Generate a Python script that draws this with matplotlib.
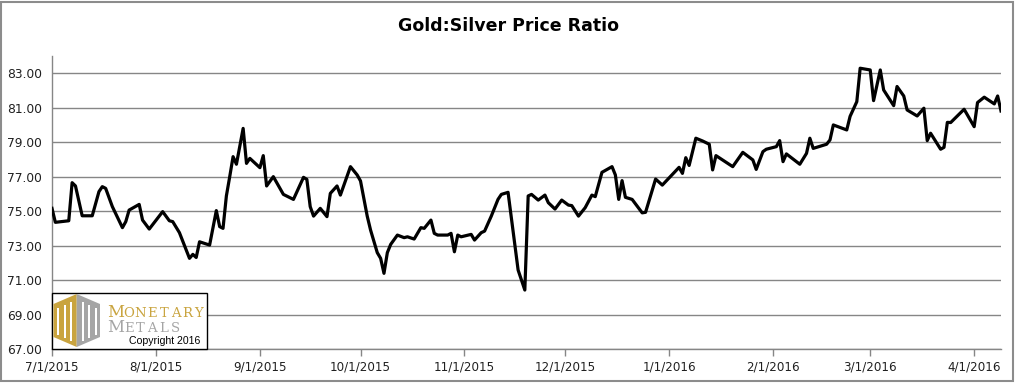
import numpy as np
import pandas as pd
import matplotlib
matplotlib.use("Agg")
import matplotlib.pyplot as plt
import matplotlib.dates as mdates
import matplotlib.patches as mpatches
from matplotlib.ticker import FormatStrFormatter, FuncFormatter

# Gold:Silver ratio (days counted from 2015-07-01)
start_date = "2015-07-01"
days = [0, 1, 5, 6, 7, 9, 12, 14, 15, 16, 18, 21, 22, 23, 26, 27, 29, 33, 35, 36,
        38, 41, 42, 43, 44, 47, 49, 50, 51, 52, 53, 54, 55, 57, 58, 59, 62, 63, 64, 66,
        69, 72, 75, 76, 77, 78, 80, 82, 83, 85, 86, 89, 91, 92, 94, 95, 97, 98, 99, 100,
        101, 103, 105, 106, 108, 110, 111, 113, 114, 115, 118, 119, 120, 121, 122, 125, 126, 128, 129, 131,
        133, 134, 136, 139, 141, 142, 143, 145, 147, 148, 150, 152, 154, 155, 157, 159, 161, 162, 164, 167,
        168, 169, 170, 171, 173, 176, 177, 180, 182, 187, 188, 189, 190, 192, 194, 196, 197, 198, 203, 206,
        209, 210, 212, 213, 216, 217, 218, 219, 223, 225, 226, 227, 231, 232, 233, 237, 238, 240, 241, 244,
        245, 247, 248, 251, 252, 254, 255, 258, 260, 261, 262, 265, 266, 267, 268, 272, 275, 276, 278, 281,
        282, 283]
ratio = [75.16, 74.35, 74.44, 76.65, 76.46, 74.73, 74.73, 76.13, 76.42, 76.32, 75.26, 74.04, 74.39, 75.06, 75.39, 74.48, 73.96, 74.97, 74.44, 74.39,
         73.75, 72.26, 72.49, 72.31, 73.22, 73.03, 75.03, 74.10, 74.00, 75.88, 77.00, 78.16, 77.72, 79.80, 77.77, 78.06, 77.52, 78.22, 76.46, 77.00,
         75.97, 75.68, 76.96, 76.84, 75.26, 74.71, 75.16, 74.68, 76.03, 76.46, 75.93, 77.58, 77.10, 76.75, 74.71, 73.90, 72.59, 72.26, 71.39, 72.59,
         73.07, 73.61, 73.46, 73.51, 73.38, 74.04, 74.00, 74.48, 73.71, 73.61, 73.61, 73.71, 72.64, 73.61, 73.51, 73.65, 73.32, 73.75, 73.84, 74.71,
         75.68, 75.97, 76.09, 71.58, 70.42, 75.88, 75.97, 75.64, 75.93, 75.49, 75.12, 75.64, 75.35, 75.32, 74.71, 75.20, 75.93, 75.84, 77.25, 77.58,
         77.10, 75.68, 76.77, 75.80, 75.68, 74.90, 74.93, 76.86, 76.51, 77.54, 77.19, 78.10, 77.65, 79.23, 79.07, 78.88, 77.39, 78.22, 77.58, 78.41,
         77.97, 77.42, 78.45, 78.59, 78.74, 79.09, 77.87, 78.32, 77.72, 78.35, 79.23, 78.64, 78.88, 79.13, 80.00, 79.71, 80.50, 81.35, 83.29, 83.19,
         81.41, 83.19, 82.03, 81.12, 82.23, 81.68, 80.87, 80.52, 80.97, 79.09, 79.52, 78.59, 78.70, 80.15, 80.14, 80.91, 79.90, 81.30, 81.61, 81.22,
         81.68, 80.81]

month_ticks = ["2015-07-01", "2015-08-01", "2015-09-01", "2015-10-01", "2015-11-01",
               "2015-12-01", "2016-01-01", "2016-02-01", "2016-03-01", "2016-04-01"]
y_ticks = [67, 69, 71, 73, 75, 77, 79, 81, 83]

dates = pd.Timestamp(start_date) + pd.to_timedelta(days, unit="D")

GRID = "#868686"
GOLD = "#C9A43F"
GREY = "#A5A5A5"

fig = plt.figure(figsize=(10.16, 3.83), dpi=100)
ax = fig.add_axes([52 / 1016, 34 / 383, 949 / 1016, 293 / 383])

ax.plot(dates, ratio, color="black", lw=2.3, solid_joinstyle="round", zorder=3)

ax.set_ylim(67, 84)
ax.set_yticks(y_ticks)
ax.yaxis.set_major_formatter(FormatStrFormatter("%.2f"))
ax.set_xlim(pd.Timestamp(start_date), dates[-1])
ax.set_xticks(pd.to_datetime(month_ticks))
ax.xaxis.set_major_formatter(FuncFormatter(
    lambda v, p: "{d.month}/{d.day}/{d.year}".format(d=mdates.num2date(v))))

ax.grid(axis="y", color=GRID, lw=1.0)
ax.set_axisbelow(True)
for s in ["top", "right"]:
    ax.spines[s].set_visible(False)
for s in ["left", "bottom"]:
    ax.spines[s].set_color(GRID)
    ax.spines[s].set_linewidth(1.0)

ax.tick_params(axis="y", length=0, pad=7, labelsize=8.8, labelcolor="#202020")
ax.tick_params(axis="x", length=5, width=1, color=GRID, pad=3, labelsize=8.6, labelcolor="#202020")

fig.text(0.5, 1 - 26 / 383, "Gold:Silver Price Ratio", ha="center", va="center",
         fontsize=12.5, fontweight="bold")

# outer chart border
fig.patches.append(mpatches.Rectangle((1 / 1016, 2 / 383), 1012 / 1016, 379 / 383,
                                      transform=fig.transFigure, fill=False,
                                      edgecolor="#8C8C8C", lw=1.5))


# logo box (pixel coordinates of the figure)
def px(x, y):
    return (x / 1016, 1 - y / 383)


fig.patches.append(mpatches.Rectangle(px(52, 349), 155 / 1016, 56 / 383,
                                      transform=fig.transFigure, facecolor="white",
                                      edgecolor="black", lw=1.0, zorder=5))

hex_left = [px(76.7, 294), px(53.5, 304), px(53.5, 337), px(76.7, 347)]
hex_right = [px(76.7, 294), px(100, 304), px(100, 337), px(76.7, 347)]
fig.patches.append(mpatches.Polygon(hex_left, closed=True, transform=fig.transFigure,
                                    facecolor=GOLD, edgecolor="none", zorder=6))
fig.patches.append(mpatches.Polygon(hex_right, closed=True, transform=fig.transFigure,
                                    facecolor=GREY, edgecolor="none", zorder=6))
# white pillars inside the hexagon
for x0, x1, ya, yb in [(57, 59, 308, 335), (63.5, 65.5, 305, 338), (70, 72, 302, 341),
                       (81.5, 83.5, 302, 341), (88, 90, 305, 338), (94.5, 96.5, 308, 335)]:
    fig.patches.append(mpatches.Rectangle(px(x0, yb), (x1 - x0) / 1016, (yb - ya) / 383,
                                          transform=fig.transFigure, facecolor="white",
                                          edgecolor="none", zorder=7))

# small-caps wordmark, one letter at a time
for word, colour, y, step in [("MONETARY", GOLD, 317, 11.6), ("METALS", GREY, 332, 11.6)]:
    fig.text(*px(116, y), word[0], fontsize=12, color=colour, family="DejaVu Serif",
             va="baseline", ha="center", zorder=8)
    for i, ch in enumerate(word[1:]):
        fig.text(*px(129 + i * step, y), ch, fontsize=9.5, color=colour, family="DejaVu Serif",
                 va="baseline", ha="center", zorder=8)
fig.text(*px(129, 341), "Copyright 2016", fontsize=7.6, color="black", family="Liberation Sans",
         va="center", ha="left", zorder=8)

fig.savefig("out.png", dpi=100)
